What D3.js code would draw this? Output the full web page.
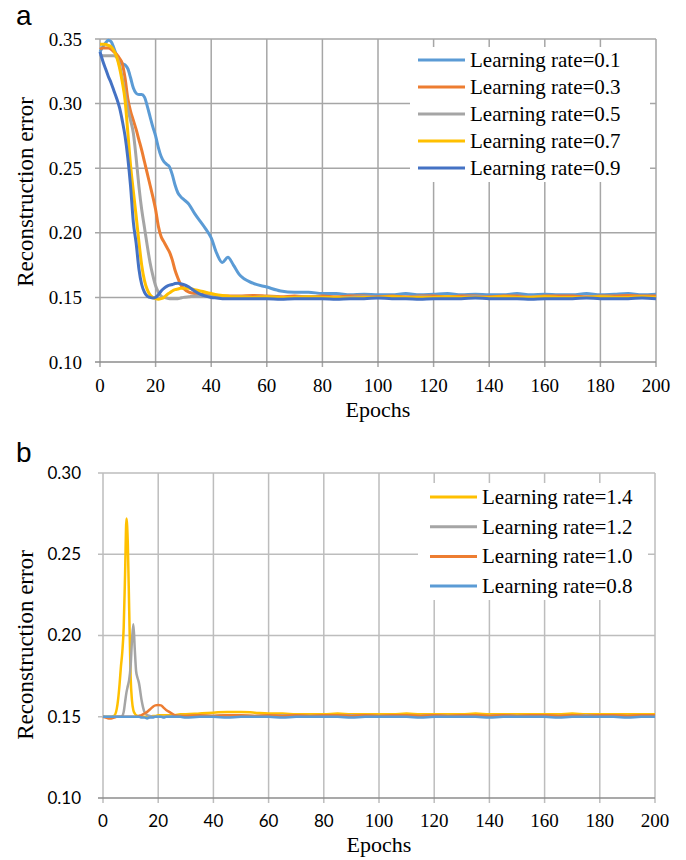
<!DOCTYPE html>
<html>
<head>
<meta charset="utf-8">
<script src="https://cdn.jsdelivr.net/npm/d3@7/dist/d3.min.js"></script>
<style>
  body { margin: 0; background: #fff; }
</style>
</head>
<body>
<svg id="chart" width="686" height="860"></svg>
<script>
// ---- panel a data ----
const epochsA = [0,1,2,3,4,5,6,7,8,9,10,11,12,13,14,15,16,17,18,19,20,21,22,23,24,25,26,27,28,29,30,
  32,34,36,38,40,42,44,46,48,50,
  55,60,65,70,75,80,85,90,95,100,105,110,115,120,125,130,135,140,145,150,155,160,165,170,175,180,185,190,195,200];

const lr01 = [0.340,0.344,0.347,0.349,0.348,0.343,0.337,0.333,0.331,0.330,0.327,0.320,0.312,0.308,0.307,0.307,0.305,0.298,0.290,0.282,0.275,0.266,0.259,0.255,0.253,0.251,0.245,0.237,0.231,0.228,0.226,
  0.222,0.215,0.209,0.203,0.196,0.184,0.177,0.181,0.175,0.168,
  0.161,0.158,0.155,0.154,0.154,0.153,0.153,0.152,0.1525,0.152,0.152,0.153,0.152,0.1525,0.153,0.152,0.1525,0.152,0.152,0.153,0.152,0.1525,0.152,0.152,0.153,0.152,0.1525,0.153,0.152,0.1525];
const lr03 = [0.342,0.343,0.343,0.343,0.342,0.340,0.338,0.335,0.331,0.320,0.304,0.294,0.287,0.280,0.272,0.264,0.255,0.246,0.237,0.228,0.218,0.205,0.197,0.193,0.189,0.185,0.179,0.171,0.165,0.160,0.157,
  0.154,0.153,0.1525,0.152,0.152,0.1515,0.151,0.151,0.151,0.151,
  0.1515,0.151,0.1505,0.151,0.1505,0.151,0.1505,0.151,0.151,0.1505,0.151,0.1505,0.151,0.151,0.1505,0.151,0.151,0.1505,0.151,0.151,0.1505,0.151,0.151,0.151,0.1505,0.151,0.151,0.1515,0.151,0.151];
const lr05 = [0.338,0.337,0.337,0.337,0.337,0.337,0.336,0.330,0.320,0.308,0.296,0.287,0.277,0.258,0.236,0.218,0.204,0.190,0.177,0.167,0.159,0.154,0.151,0.150,0.1495,0.149,0.149,0.149,0.149,0.1495,0.150,
  0.1505,0.151,0.151,0.151,0.151,0.151,0.1505,0.1505,0.1505,0.1505,
  0.150,0.1505,0.150,0.150,0.1505,0.150,0.150,0.150,0.1505,0.150,0.150,0.150,0.1505,0.150,0.150,0.150,0.1505,0.150,0.150,0.150,0.1505,0.150,0.150,0.150,0.150,0.1505,0.150,0.150,0.150,0.150];
const lr07 = [0.346,0.346,0.346,0.345,0.344,0.341,0.336,0.328,0.317,0.303,0.278,0.252,0.232,0.213,0.193,0.175,0.163,0.156,0.152,0.150,0.149,0.1485,0.149,0.150,0.152,0.1535,0.155,0.156,0.1565,0.157,0.157,
  0.157,0.156,0.155,0.154,0.153,0.152,0.1515,0.151,0.1505,0.1505,
  0.150,0.1505,0.150,0.150,0.1505,0.150,0.150,0.1495,0.150,0.150,0.1505,0.150,0.150,0.150,0.1505,0.150,0.150,0.150,0.1505,0.150,0.150,0.1505,0.150,0.150,0.150,0.1505,0.150,0.150,0.1505,0.150];
const lr09 = [0.340,0.333,0.327,0.321,0.316,0.310,0.304,0.297,0.287,0.275,0.258,0.236,0.208,0.192,0.172,0.160,0.154,0.151,0.150,0.1495,0.150,0.152,0.155,0.157,0.1585,0.1595,0.160,0.1607,0.161,0.1605,0.160,
  0.158,0.155,0.1525,0.151,0.150,0.1495,0.149,0.149,0.149,0.149,
  0.149,0.149,0.1485,0.149,0.149,0.149,0.1485,0.149,0.149,0.1495,0.149,0.149,0.1485,0.149,0.149,0.149,0.1495,0.149,0.149,0.149,0.1485,0.149,0.149,0.149,0.1495,0.149,0.149,0.149,0.1495,0.149];

const yTicksA = [0.10,0.15,0.20,0.25,0.30,0.35];

// ---- panel b data ----
const epochsB = [0,1,2,3,4,5,5.5,6,6.5,7,7.5,8,8.5,9,9.5,10,10.5,11,11.5,12,12.5,13,
  14,15,16,17,18,19,20,21,22,23,24,26,28,30,
  35,40,45,50,55,60,65,70,75,80,85,90,95,100,105,110,115,120,125,130,135,140,145,150,155,160,165,170,175,180,185,190,195,200];

const lr14 = [0.150,0.150,0.150,0.150,0.1505,0.155,0.161,0.170,0.181,0.190,0.205,0.238,0.272,0.256,0.215,0.175,0.160,0.154,0.152,0.151,0.1505,0.150,
  0.150,0.150,0.150,0.150,0.1505,0.1505,0.151,0.151,0.151,0.151,0.151,0.151,0.1515,0.1515,
  0.152,0.1525,0.153,0.153,0.1525,0.152,0.152,0.1515,0.1515,0.1515,0.152,0.1515,0.1515,0.1515,0.1515,0.152,0.1515,0.1515,0.1515,0.1515,0.152,0.1515,0.1515,0.1515,0.1515,0.1515,0.1515,0.152,0.1515,0.1515,0.1515,0.1515,0.1515,0.1515];
const lr12 = [0.150,0.150,0.150,0.150,0.150,0.150,0.150,0.150,0.150,0.1505,0.153,0.159,0.165,0.169,0.173,0.181,0.197,0.207,0.192,0.178,0.174,0.171,
  0.160,0.153,0.151,0.1505,0.150,0.150,0.150,0.150,0.150,0.150,0.150,0.1505,0.1505,0.1505,
  0.1505,0.1505,0.151,0.1505,0.1505,0.1505,0.151,0.1505,0.1505,0.1505,0.1505,0.151,0.1505,0.1505,0.1505,0.1505,0.1505,0.151,0.1505,0.1505,0.1505,0.1505,0.151,0.1505,0.1505,0.1505,0.1505,0.1505,0.151,0.1505,0.1505,0.1505,0.1505,0.1505];
const lr10 = [0.150,0.1495,0.149,0.149,0.1495,0.150,0.150,0.150,0.150,0.150,0.150,0.150,0.150,0.150,0.150,0.150,0.150,0.150,0.150,0.150,0.150,0.1505,
  0.151,0.152,0.153,0.1545,0.156,0.157,0.1572,0.157,0.1555,0.154,0.153,0.151,0.1505,0.1505,
  0.151,0.1505,0.151,0.151,0.1505,0.151,0.1505,0.151,0.1505,0.151,0.151,0.1505,0.151,0.1505,0.151,0.151,0.1505,0.151,0.1505,0.151,0.151,0.1505,0.151,0.1505,0.151,0.151,0.1505,0.151,0.1505,0.151,0.151,0.1505,0.151,0.151];
const lr08 = [0.150,0.150,0.150,0.150,0.150,0.150,0.150,0.150,0.150,0.150,0.150,0.150,0.150,0.150,0.150,0.150,0.150,0.150,0.150,0.150,0.150,0.150,
  0.1495,0.1495,0.149,0.1495,0.1495,0.150,0.150,0.150,0.1495,0.150,0.150,0.150,0.150,0.1495,
  0.150,0.150,0.1495,0.150,0.150,0.150,0.1495,0.150,0.150,0.150,0.150,0.1495,0.150,0.150,0.150,0.150,0.1495,0.150,0.150,0.150,0.150,0.1495,0.150,0.150,0.150,0.150,0.1495,0.150,0.150,0.150,0.150,0.1495,0.150,0.150];

const yTicksB = [0.10,0.15,0.20,0.25,0.30];
const xTicks = [0,20,40,60,80,100,120,140,160,180,200];

const BLUE = "#5b9bd5", ORANGE = "#ed7d31", GRAY = "#a5a5a5", GOLD = "#ffc000", DARKBLUE = "#4472c4";

const serif = "'Liberation Serif','Times New Roman',serif";
const sans = "Lato,'Open Sans',sans-serif";
const svg = d3.select("#chart");

function drawPanel(p) {
  const g = svg.append("g");
  const x = d3.scaleLinear().domain([0, 200]).range([p.left, p.right]);
  const y = d3.scaleLinear().domain([p.yTicks[0], p.yTicks[p.yTicks.length - 1]]).range([p.bottom, p.top]);

  // grid: vertical lines run a little past the x axis, horizontal past the y axis
  g.selectAll(".vgrid").data(xTicks).enter().append("line")
    .attr("x1", d => x(d)).attr("x2", d => x(d))
    .attr("y1", p.top).attr("y2", p.bottom + 5)
    .attr("stroke", p.gridColor).attr("stroke-width", 1.5);
  g.selectAll(".hgrid").data(p.yTicks.slice(1)).enter().append("line")
    .attr("x1", p.left - 5).attr("x2", p.right)
    .attr("y1", d => y(d)).attr("y2", d => y(d))
    .attr("stroke", p.gridColor).attr("stroke-width", 1.5);
  g.append("line")
    .attr("x1", p.left - 5).attr("x2", p.right)
    .attr("y1", p.bottom).attr("y2", p.bottom)
    .attr("stroke", "#8c8c8c").attr("stroke-width", 1.5);

  // tick labels
  g.selectAll(".ylab").data(p.yTicks).enter().append("text")
    .attr("x", p.left - p.yLabGap).attr("y", d => y(d)).attr("dy", "0.35em")
    .attr("text-anchor", "end")
    .style("font-family", p.yTickFont).style("font-size", p.yTickSize + "px")
    .text(d3.format(".2f"));
  g.selectAll(".xlab").data(xTicks).enter().append("text")
    .attr("x", d => x(d)).attr("y", p.xLabY)
    .attr("text-anchor", "middle")
    .style("font-family", d => p.xTickFont(d)).style("font-size", d => p.xTickSize(d) + "px")
    .text(d => d);

  // axis titles
  g.append("text")
    .attr("x", (p.left + p.right) / 2).attr("y", p.titleY)
    .attr("text-anchor", "middle")
    .style("font-family", serif).style("font-size", "22px")
    .text("Epochs");
  g.append("text")
    .attr("transform", "translate(33," + p.yTitleMid + ") rotate(-90)")
    .attr("text-anchor", "middle")
    .style("font-family", serif).style("font-size", "23px")
    .text("Reconstruction error");

  // panel letter
  g.append("text")
    .attr("x", 16).attr("y", p.letterY)
    .style("font-family", "'Liberation Sans',Arial,sans-serif").style("font-size", "28px")
    .text(p.letter);

  // series
  const line = d3.line()
    .x((d, i) => x(p.epochs[i]))
    .y(d => y(d))
    .curve(d3.curveMonotoneX);
  p.series.forEach(s => {
    g.append("path")
      .attr("d", line(s.values))
      .attr("fill", "none")
      .attr("stroke", s.color)
      .attr("stroke-width", p.lineWidth)
      .attr("stroke-linejoin", "round");
  });

  // legend on a white box
  const lg = p.legend;
  g.append("rect")
    .attr("x", lg.box[0]).attr("y", lg.box[1])
    .attr("width", lg.box[2]).attr("height", lg.box[3])
    .attr("fill", "#fff");
  const items = g.selectAll(".leg").data(lg.order).enter().append("g")
    .attr("transform", (d, i) => "translate(" + lg.x + "," + (lg.y + i * lg.step) + ")");
  items.append("line")
    .attr("x1", 0).attr("x2", 47).attr("y1", 0).attr("y2", 0)
    .attr("stroke", d => d.color).attr("stroke-width", 3);
  items.append("text")
    .attr("x", 52).attr("y", 0).attr("dy", "0.33em")
    .style("font-family", serif).style("font-size", "21px")
    .text(d => d.label);
}

const seriesA = [
  { label: "Learning rate=0.1", color: BLUE, values: lr01 },
  { label: "Learning rate=0.3", color: ORANGE, values: lr03 },
  { label: "Learning rate=0.5", color: GRAY, values: lr05 },
  { label: "Learning rate=0.7", color: GOLD, values: lr07 },
  { label: "Learning rate=0.9", color: DARKBLUE, values: lr09 }
];
drawPanel({
  letter: "a", letterY: 25,
  left: 100, right: 656, top: 39, bottom: 362, yTitleMid: 192,
  yTicks: yTicksA, epochs: epochsA, series: seriesA,
  gridColor: "#a6a6a6", yTickFont: serif, yTickSize: 19, yLabGap: 18,
  xTickFont: () => serif, xTickSize: () => 19,
  xLabY: 392, titleY: 417, lineWidth: 3,
  legend: { box: [410, 47, 240, 135], x: 418, y: 60, step: 27, order: seriesA }
});

const seriesB = [
  { label: "Learning rate=1.4", color: GOLD, values: lr14 },
  { label: "Learning rate=1.2", color: GRAY, values: lr12 },
  { label: "Learning rate=1.0", color: ORANGE, values: lr10 },
  { label: "Learning rate=0.8", color: BLUE, values: lr08 }
];
// in the figure the labels from 100 on are set in a serif face
drawPanel({
  letter: "b", letterY: 462,
  left: 103, right: 655, top: 473, bottom: 798, yTitleMid: 645,
  yTicks: yTicksB, epochs: epochsB, series: seriesB,
  gridColor: "#bdbdbd", yTickFont: sans, yTickSize: 17, yLabGap: 22,
  xTickFont: d => d >= 100 ? serif : sans, xTickSize: d => d >= 100 ? 19 : 17,
  xLabY: 827, titleY: 852, lineWidth: 2.5,
  legend: { box: [418, 483, 230, 117], x: 430, y: 497, step: 29.7, order: seriesB }
});
</script>
</body>
</html>
